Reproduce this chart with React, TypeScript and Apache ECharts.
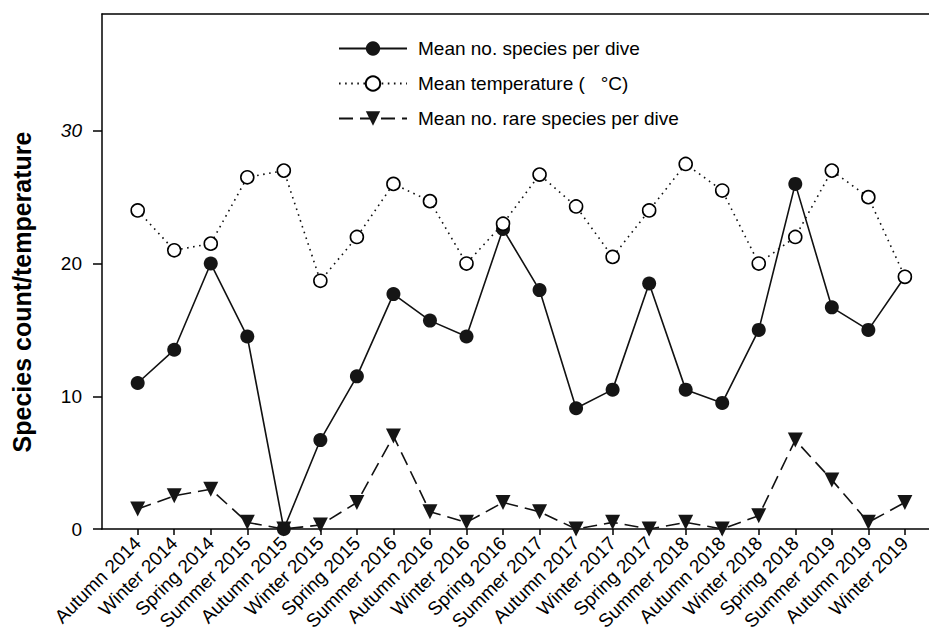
import React, { useEffect, useRef } from "react";
import * as echarts from "echarts";

const categories: string[] = [
  "Autumn 2014", "Winter 2014", "Spring 2014", "Summer 2015", "Autumn 2015", "Winter 2015",
  "Spring 2015", "Summer 2016", "Autumn 2016", "Winter 2016", "Spring 2016", "Summer 2017",
  "Autumn 2017", "Winter 2017", "Spring 2017", "Summer 2018", "Autumn 2018", "Winter 2018",
  "Spring 2018", "Summer 2019", "Autumn 2019", "Winter 2019",
];

const speciesPerDive: number[] = [
  11, 13.5, 20, 14.5, 0, 6.7, 11.5, 17.7, 15.7, 14.5, 22.6, 18,
  9.1, 10.5, 18.5, 10.5, 9.5, 15, 26, 16.7, 15, 19,
];

const meanTemperature: number[] = [
  24, 21, 21.5, 26.5, 27, 18.7, 22, 26, 24.7, 20, 23, 26.7,
  24.3, 20.5, 24, 27.5, 25.5, 20, 22, 27, 25, 19,
];

const rareSpeciesPerDive: number[] = [
  1.5, 2.5, 3, 0.5, 0, 0.3, 2, 7, 1.3, 0.5, 2, 1.3,
  0, 0.5, 0, 0.5, 0, 1, 6.7, 3.7, 0.5, 2,
];

const yTickMax = 30;
const yTickStep = 10;

const seriesNames = {
  species: "Mean no. species per dive",
  temp: "Mean temperature (   °C)",
  rare: "Mean no. rare species per dive",
};

const FONT = '"Liberation Sans", Arial, Helvetica, sans-serif';

export default function App() {
  const ref = useRef<HTMLDivElement>(null);

  useEffect(() => {
    document.body.style.margin = "0";
    if (!ref.current) return;
    const chart = echarts.init(ref.current, undefined, { renderer: "svg" });
    const idx = categories.map((_, i) => i);
    const toPairs = (arr: number[]) => arr.map((v, i) => [i, v]);
    const xMin = -0.977;
    const xMax = 21.66;
    const yMax = 38.8;
    const H = 635;
    const gridTop = 14;
    const gridBottom = 106;
    const plotH = H - gridTop - gridBottom;
    // second grid used only to carry the y ticks/labels 0..30 on the same scale
    const tickGridTop = gridTop + plotH * (1 - yTickMax / yMax);

    const option: any = {
      animation: false,
      backgroundColor: "#fff",
      textStyle: { fontFamily: FONT },
      grid: [
        { left: 102, right: 0, top: gridTop, bottom: gridBottom, containLabel: false, outerBoundsMode: "none" },
        { left: 102, right: 0, top: tickGridTop, bottom: gridBottom, containLabel: false, outerBoundsMode: "none" },
      ],
      legend: {
        orient: "vertical",
        left: 333,
        top: 34,
        itemWidth: 68,
        itemHeight: 18,
        itemGap: 16,
        data: [seriesNames.species, seriesNames.temp, seriesNames.rare],
        textStyle: { fontFamily: FONT, fontSize: 19, color: "#000", padding: [0, 0, 0, 6] },
      },
      xAxis: [
        {
          type: "value",
          gridIndex: 0,
          position: "bottom",
          min: xMin,
          max: xMax,
          splitLine: { show: false },
          axisLine: { show: true, onZero: false, lineStyle: { color: "#000", width: 1.5 } },
          axisTick: { show: true, customValues: idx, length: 6, lineStyle: { color: "#000", width: 1.5 } },
          axisLabel: {
            customValues: idx,
            formatter: (v: number) => categories[Math.round(v)] ?? "",
            rotate: 45,
            fontSize: 19,
            fontFamily: FONT,
            color: "#000",
            margin: 11,
          },
        },
        {
          type: "value",
          gridIndex: 0,
          position: "top",
          min: xMin,
          max: xMax,
          splitLine: { show: false },
          axisLine: { show: true, onZero: false, lineStyle: { color: "#000", width: 1.5 } },
          axisTick: { show: false },
          axisLabel: { show: false },
        },
        {
          type: "value",
          gridIndex: 1,
          min: xMin,
          max: xMax,
          show: false,
        },
      ],
      yAxis: [
        {
          type: "value",
          gridIndex: 0,
          position: "left",
          min: 0,
          max: yMax,
          splitLine: { show: false },
          axisLine: { show: true, onZero: false, lineStyle: { color: "#000", width: 1.5 } },
          axisTick: { show: false },
          axisLabel: { show: false },
        },
        {
          type: "value",
          gridIndex: 1,
          position: "left",
          min: 0,
          max: yTickMax,
          interval: yTickStep,
          splitLine: { show: false },
          axisLine: { show: false, onZero: false },
          axisTick: { show: true, length: 9, lineStyle: { color: "#000", width: 1.5 } },
          axisLabel: {
            formatter: (v: number) => (v === yTickMax ? `{i|${v}}` : String(v)),
            fontSize: 19,
            fontFamily: FONT,
            color: "#000",
            margin: 20,
            rich: { i: { fontStyle: "italic", fontSize: 19, fontFamily: FONT, color: "#000" } },
          },
        },
      ],
      graphic: [
        {
          type: "text",
          x: 22,
          y: 292,
          rotation: Math.PI / 2,
          style: {
            text: "Species count/temperature",
            font: `bold 25px ${FONT}`,
            fill: "#000",
            textAlign: "center",
            textVerticalAlign: "middle",
          },
        },
      ],
      series: [
        {
          name: seriesNames.rare,
          type: "line",
          xAxisIndex: 0,
          yAxisIndex: 0,
          data: toPairs(rareSpeciesPerDive),
          symbol: "triangle",
          symbolRotate: 180,
          symbolSize: 15,
          itemStyle: { color: "#151515" },
          lineStyle: { color: "#111", width: 1.6, type: [14, 7] },
        },
        {
          name: seriesNames.species,
          type: "line",
          xAxisIndex: 0,
          yAxisIndex: 0,
          data: toPairs(speciesPerDive),
          symbol: "circle",
          symbolSize: 14,
          itemStyle: { color: "#151515" },
          lineStyle: { color: "#111", width: 1.6, type: "solid" },
        },
        {
          name: seriesNames.temp,
          type: "line",
          xAxisIndex: 0,
          yAxisIndex: 0,
          data: toPairs(meanTemperature),
          symbol: "circle",
          symbolSize: 13,
          itemStyle: { color: "#fff", borderColor: "#000", borderWidth: 1.6 },
          lineStyle: { color: "#111", width: 1.6, type: [1.6, 4.5] },
        },
      ],
    };
    chart.setOption(option);
    return () => chart.dispose();
  }, []);

  return (
    <div
      ref={ref}
      style={{ position: "fixed", left: 0, top: 0, width: 929, height: 635, background: "#fff" }}
    />
  );
}
